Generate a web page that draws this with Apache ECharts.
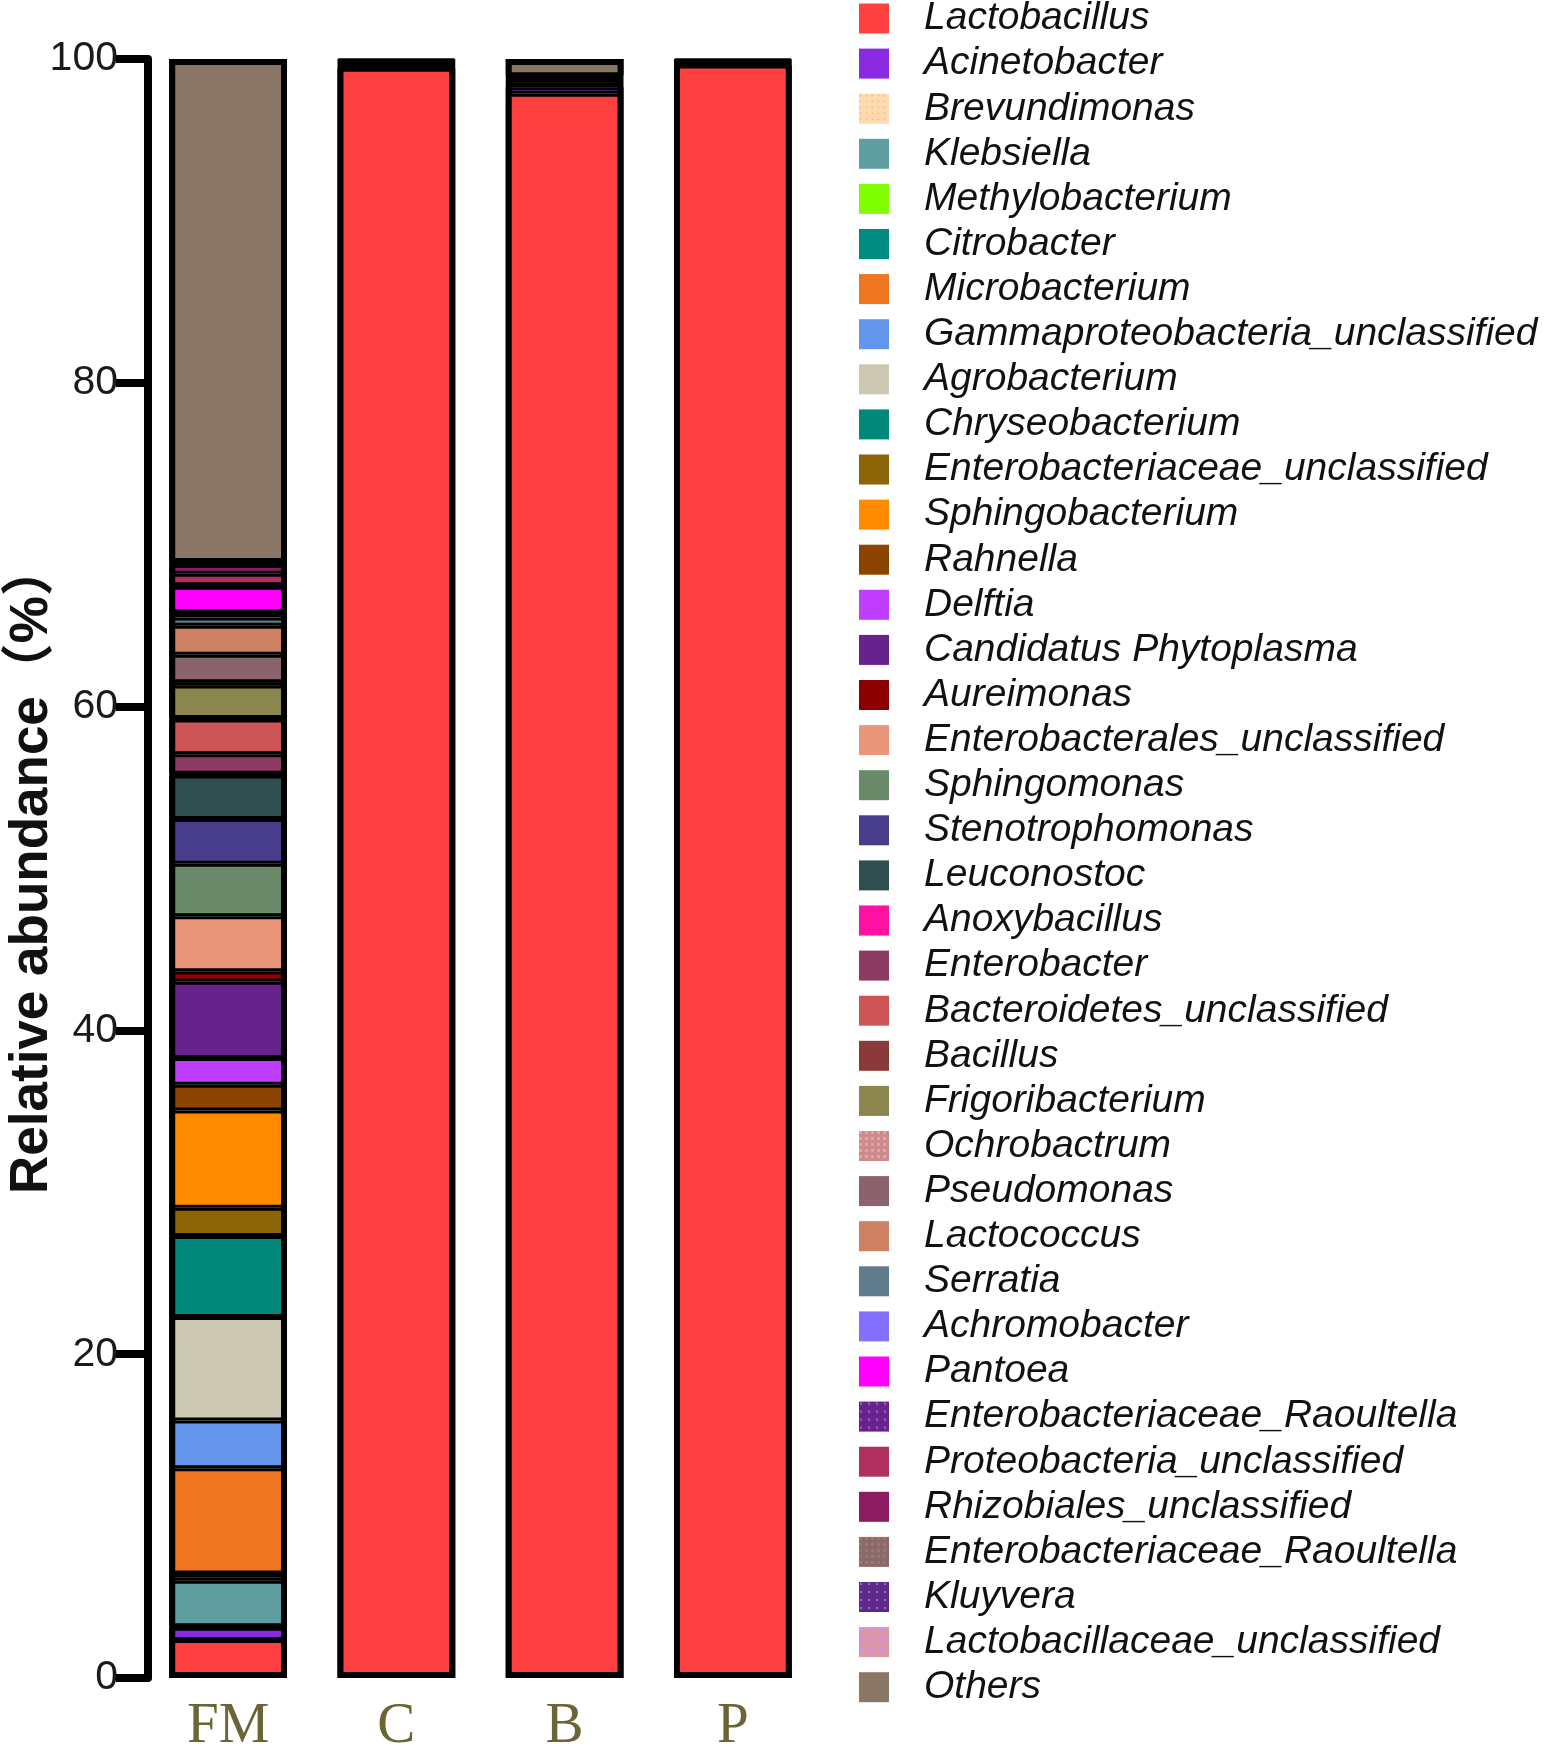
<!DOCTYPE html>
<html><head><meta charset="utf-8">
<script src="https://cdn.jsdelivr.net/npm/echarts@6/dist/echarts.min.js"></script>
<style>html,body{margin:0;padding:0;background:#fff}#c{width:1549px;height:1748px}</style>
</head><body><div id="c"></div>
<script>
const categories = ['FM', 'C', 'B', 'P'];
const genera = [
  'Lactobacillus','Acinetobacter','Brevundimonas','Klebsiella','Methylobacterium',
  'Citrobacter','Microbacterium','Gammaproteobacteria_unclassified','Agrobacterium','Chryseobacterium',
  'Enterobacteriaceae_unclassified','Sphingobacterium','Rahnella','Delftia','Candidatus Phytoplasma',
  'Aureimonas','Enterobacterales_unclassified','Sphingomonas','Stenotrophomonas','Leuconostoc',
  'Anoxybacillus','Enterobacter','Bacteroidetes_unclassified','Bacillus','Frigoribacterium',
  'Ochrobactrum','Pseudomonas','Lactococcus','Serratia','Achromobacter',
  'Pantoea','Enterobacteriaceae_Raoultella','Proteobacteria_unclassified','Rhizobiales_unclassified','Enterobacteriaceae_Raoultella\u200b',
  'Kluyvera','Lactobacillaceae_unclassified','Others'
];
const colors = [
  '#FF4040','#8A2BE2','#FFDAB0','#5F9EA0','#7FFF00',
  '#008B80','#EE7621','#6495ED','#CDC8B1','#00897B',
  '#8B6508','#FF8C00','#8B4500','#BF3EFF','#68228B',
  '#8B0000','#E9967A','#698B69','#483D8B','#2F4F4F',
  '#FF1493','#8B3A62','#CD5555','#8B3A3A','#8B864E',
  '#CD8C8C','#8B636C','#CD8162','#607B8B','#8470FF',
  '#FF00FF','#68228B','#B03060','#8B1C62','#8B6969',
  '#5D2A8A','#DB96A8','#8B7765'
];
// relative abundance (%) per genus, same order as genera
const FM = [
  2.35, 0.75, 0.1, 2.8, 0.4,
  0.05, 6.5, 2.95, 6.4, 5.0,
  1.75, 6.0, 1.6, 1.65, 4.7,
  0.65, 3.4, 3.25, 2.75, 2.7,
  0.1, 1.2, 2.15, 0.1, 2.0,
  0.2, 1.7, 1.8, 0.5, 0.35,
  1.55, 0.1, 0.7, 0.55, 0.1,
  0.05, 0.1, 31.0
];
const C = [
  99.4, 0.1, 0, 0.1, 0,
  0, 0.1, 0, 0.1, 0.1,
  0, 0, 0, 0, 0,
  0, 0, 0, 0, 0,
  0, 0, 0, 0, 0,
  0, 0, 0, 0, 0,
  0, 0, 0, 0, 0,
  0, 0, 0.1
];
const B = [
  97.85, 0.4, 0, 0.15, 0,
  0, 0.15, 0.15, 0.15, 0.15,
  0, 0, 0, 0, 0,
  0, 0, 0, 0, 0,
  0, 0, 0, 0, 0,
  0, 0, 0, 0, 0,
  0, 0, 0, 0, 0,
  0, 0, 1.0
];
const P = [
  99.6, 0, 0, 0.1, 0,
  0, 0.1, 0, 0.1, 0,
  0, 0, 0, 0, 0,
  0, 0, 0, 0, 0,
  0, 0, 0, 0, 0,
  0, 0, 0, 0, 0,
  0, 0, 0, 0, 0,
  0, 0, 0.1
];
const yMin = 0, yMax = 100, yStep = 20;

const samples = [FM, C, B, P];
const decals = {
  2: {symbol:'circle', symbolSize:0.5, color:'rgba(230,150,80,0.6)', dashArrayX:[[3,3]], dashArrayY:[3,3]},
  20: {symbol:'rect', symbolSize:1, color:'rgba(255,0,255,0.8)', dashArrayX:[[3,3]], dashArrayY:[3,3]},
  25: {symbol:'rect', symbolSize:1, color:'rgba(230,170,170,0.8)', dashArrayX:[[3,3]], dashArrayY:[3,3]},
  31: {symbol:'circle', symbolSize:0.6, color:'rgba(170,100,230,0.9)', dashArrayX:[[4,4]], dashArrayY:[4,4]},
  34: {symbol:'rect', symbolSize:1, color:'rgba(160,120,120,0.8)', dashArrayX:[[3,3]], dashArrayY:[3,3]},
  35: {symbol:'circle', symbolSize:0.6, color:'rgba(150,110,210,0.9)', dashArrayX:[[4,4]], dashArrayY:[4,4]},
  36: {symbol:'circle', symbolSize:0.7, color:'rgba(200,150,245,0.95)', dashArrayX:[[5,5]], dashArrayY:[5,5]}
};

const series = genera.map((g, i) => {
  const st = {color: colors[i], borderColor: '#000', borderWidth: 3};
  if (decals[i]) st.decal = decals[i];
  return {
    name: g, type: 'bar', stack: 'abund', barWidth: '70%', barGap: '-100%',
    data: samples.map(s => s[i] === 0 ? '-' : s[i]),
    itemStyle: st, emphasis: {disabled: true}
  };
});
const totals = samples.map(s => s.reduce((a, b) => a + b, 0));
series.push({
  name: 'outline', type: 'bar', stack: 'outline', barWidth: '70%', barGap: '-100%',
  data: totals, silent: true, z: 10,
  itemStyle: {color: 'rgba(0,0,0,0)', borderColor: '#000', borderWidth: 6},
  emphasis: {disabled: true}
});

const chart = echarts.init(document.getElementById('c'), null, {renderer: 'canvas'});
chart.setOption({
  animation: false,
  backgroundColor: '#fff',
  grid: {left: 144, top: 59, width: 673, bottom: 70, containLabel: false, outerBoundsMode: 'none'},
  legend: {
    orient: 'vertical', left: 859, top: -1, padding: 0,
    itemWidth: 30, itemHeight: 30, itemGap: 6.1, icon: 'rect',
    selectedMode: false,
    data: genera,
    formatter: n => n.replace('\u200b', ''),
    itemStyle: {borderWidth: 0},
    textStyle: {fontFamily: 'Liberation Sans, Arial, sans-serif', fontStyle: 'italic', fontSize: 39,
      color: '#111', padding: [0, 0, 0, 30]}
  },
  xAxis: {
    type: 'category', data: categories,
    axisLine: {show: false}, axisTick: {show: false},
    axisLabel: {margin: 21, fontFamily: 'Liberation Serif, Times New Roman, serif', fontSize: 57, color: '#6b6535'}
  },
  yAxis: {
    type: 'value', min: yMin, max: yMax, interval: yStep, offset: -4,
    name: 'Relative abundance\uFF08%\uFF09', nameLocation: 'middle', nameGap: 89, nameMoveOverlap: false,
    nameTextStyle: {fontFamily: 'Liberation Sans, Noto Sans CJK SC, sans-serif', fontSize: 53, fontWeight: 'bold', color: '#111'},
    axisLine: {show: true, lineStyle: {color: '#000', width: 8}},
    axisTick: {show: true, length: 32, lineStyle: {color: '#000', width: 8}},
    axisLabel: {margin: 30, fontFamily: 'Liberation Sans, Arial, sans-serif', fontSize: 41, color: '#1a1a1a'},
    splitLine: {show: false}
  },
  series: series
});
</script>
</body></html>
